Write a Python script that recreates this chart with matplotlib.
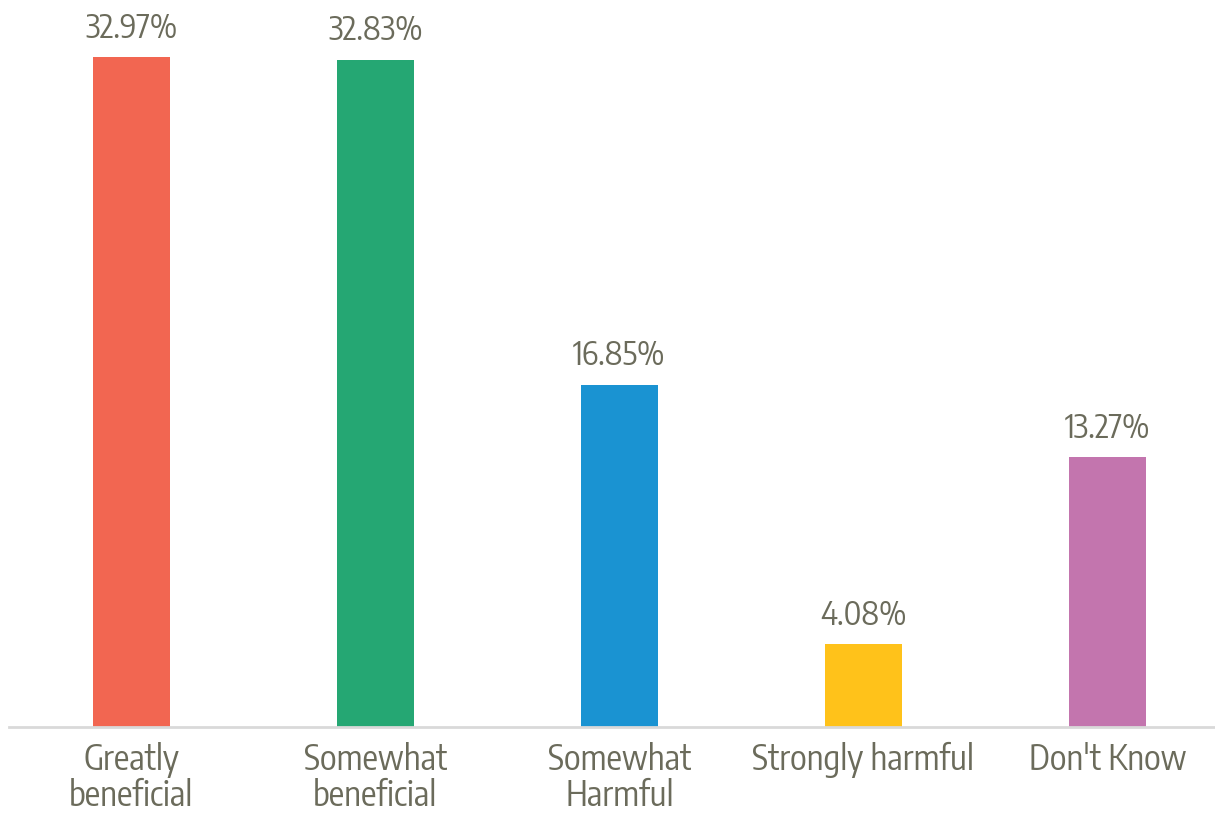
import matplotlib
matplotlib.use("Agg")
import matplotlib.pyplot as plt

# chart data
categories = ["Greatly\nbeneficial", "Somewhat\nbeneficial", "Somewhat\nHarmful",
              "Strongly harmful", "Don't Know"]
values = [32.97, 32.83, 16.85, 4.08, 13.27]
colors = ["#F26651", "#25A773", "#1A93D2", "#FFC21A", "#C375AE"]

txt_color = "#6B6B5B"
plt.rcParams['font.family'] = ['Encode Sans Condensed', 'DejaVu Sans']

fig = plt.figure(figsize=(12.15, 8.18), dpi=100)
ax = fig.add_axes([9/1215, 91/818, 1206/1215, 727/818])

x = range(len(values))
bars = ax.bar(x, values, width=0.315, color=colors, zorder=2)

for b, v in zip(bars, values):
    ax.annotate("%.2f%%" % v, (b.get_x() + b.get_width()/2, v),
                xytext=(0, 14), textcoords="offset points",
                ha="center", va="baseline", fontsize=23.5, color=txt_color)

ax.set_xlim(-0.5, 4.44)
ax.set_ylim(0, 35.78)
ax.set_xticks(list(x))
ax.set_xticklabels(categories, fontsize=25, color=txt_color, linespacing=1.0)
ax.tick_params(axis="x", length=0, pad=11)
ax.set_yticks([])
for s in ["top", "right", "left"]:
    ax.spines[s].set_visible(False)
ax.spines["bottom"].set_color("#D9D9D9")
ax.spines["bottom"].set_linewidth(2)

fig.savefig("out.png", dpi=100)
